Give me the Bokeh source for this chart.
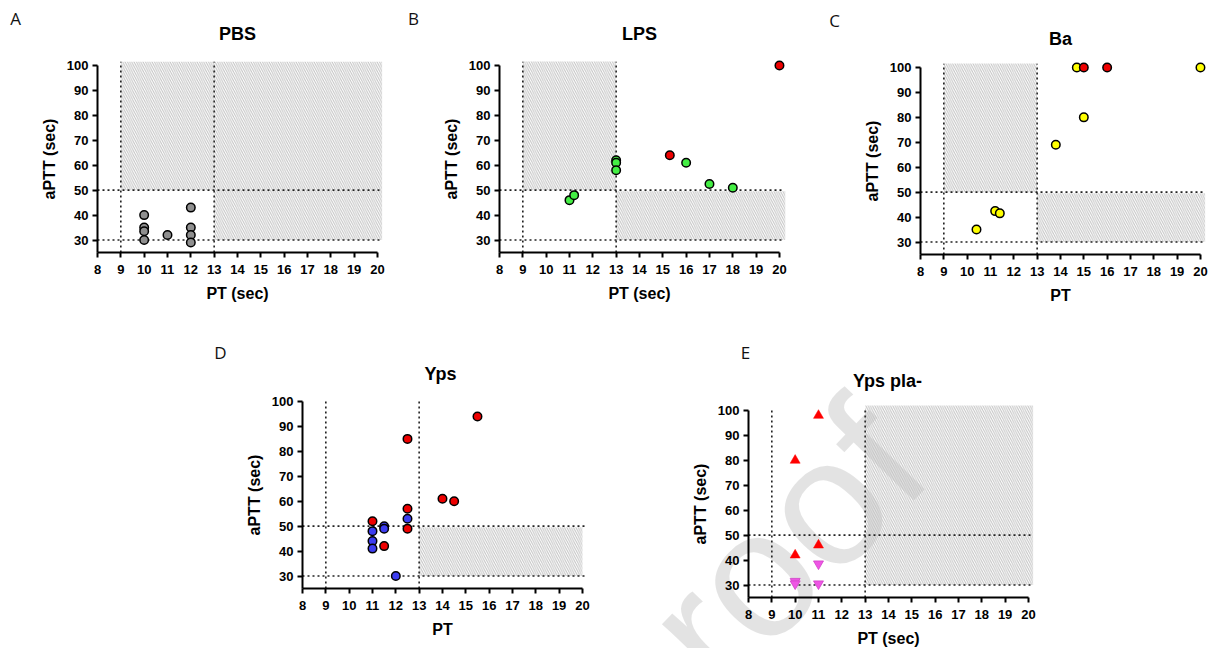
from bokeh.plotting import figure
from bokeh.models import Label, FixedTicker, Range1d
from bokeh.layouts import column, row
from bokeh.embed import file_html
from bokeh.resources import INLINE

# ---------------- data ----------------
x_ticks = [8, 9, 10, 11, 12, 13, 14, 15, 16, 17, 18, 19, 20]
y_ticks = [30, 40, 50, 60, 70, 80, 90, 100]
pt_cutoffs = [9, 13]
aptt_cutoffs = [30, 50]

pbs_pt = [10, 10, 10, 10, 11, 12, 12, 12, 12]
pbs_aptt = [40, 35, 33.5, 30, 32, 43, 35, 32, 29]

lps_green_pt = [11, 11.2, 13, 13, 13, 16, 17, 18]
lps_green_aptt = [46, 48, 62, 61, 58, 61, 52.5, 51]
lps_red_pt = [15.3, 20]
lps_red_aptt = [64, 100]

ba_yellow_pt = [10.4, 11.2, 11.4, 13.8, 14.7, 15, 20]
ba_yellow_aptt = [35, 42.4, 41.5, 69, 100, 80, 100]
ba_red_pt = [15, 16]
ba_red_aptt = [100, 100]

yps_blue_pt = [11, 11, 11, 11.5, 11.5, 12.5, 12]
yps_blue_aptt = [48, 44, 41, 50, 49, 53, 30]
yps_red_pt = [11, 11.5, 12.5, 12.5, 12.5, 14, 14.5, 15.5]
yps_red_aptt = [52, 42, 85, 57, 49, 61, 60, 94]

ypsp_up_pt = [11, 10, 10, 11]
ypsp_up_aptt = [98, 80, 42, 46]
ypsp_down_pt = [11, 11, 10, 10]
ypsp_down_aptt = [38.5, 30.5, 31.5, 30.5]

# hatched zones (PT from, PT to, aPTT from, aPTT to)
hatch_A = [(9, 13, 50, 101.5), (13, 20.2, 30, 101.5)]
hatch_B = [(9, 13, 50, 101.6), (13, 20.25, 30, 49.6)]
hatch_C = [(9, 13, 50, 101.6), (13, 20.2, 30, 49.6)]
hatch_D = [(13, 20, 30, 49.6)]
hatch_E = [(13, 20.2, 30, 102)]

FONT = "Liberation Sans"
LETTER_FONT = "Open Sans"
PPX = 23.33    # pixels per PT unit
PPY = 2.4935   # pixels per aPTT unit


def make_panel(title, xlabel, letter, width, height, axis_px, axis_py,
               hatches, letter_px, title_px, vtop=101.5):
    """axis_px: canvas x of PT=8; axis_py: canvas y of the x axis line (aPTT=25)."""
    x0 = 8 - axis_px / PPX
    x1 = x0 + width / PPX
    y1 = 25 + axis_py / PPY
    y0 = 25 - (height - axis_py) / PPY
    p = figure(width=width, height=height,
               min_border_left=0, min_border_right=0,
               min_border_top=0, min_border_bottom=0,
               x_range=Range1d(x0, x1), y_range=Range1d(y0, y1),
               output_backend="svg", toolbar_location=None, tools="")
    p.grid.visible = False
    p.outline_line_color = None
    p.background_fill_color = "white"
    p.border_fill_color = "white"

    p.xaxis.ticker = FixedTicker(ticks=x_ticks)
    p.yaxis.ticker = FixedTicker(ticks=y_ticks)
    p.xaxis.bounds = (8, 20)
    p.yaxis.bounds = (25, 100)
    p.yaxis.fixed_location = 8
    p.xaxis.fixed_location = 25
    for ax in (p.xaxis[0], p.yaxis[0]):
        ax.axis_line_width = 2
        ax.axis_line_color = "black"
        ax.major_tick_line_width = 2
        ax.major_tick_line_color = "black"
        ax.major_tick_out = 5
        ax.major_tick_in = 0
        ax.minor_tick_line_color = None
        ax.major_label_text_font = FONT
        ax.major_label_text_font_style = "bold"
        ax.major_label_text_font_size = "13px"
        ax.major_label_text_color = "black"
        ax.axis_label_text_font = FONT
        ax.axis_label_text_font_style = "bold"
        ax.axis_label_text_font_size = "16px"
        ax.axis_label_text_color = "black"
    p.xaxis.major_label_standoff = 7
    p.xaxis.axis_label_standoff = 8
    p.yaxis.major_label_standoff = 4
    p.yaxis.axis_label_standoff = 6
    p.xaxis.axis_label = xlabel
    p.yaxis.axis_label = "aPTT (sec)"

    if hatches:
        p.quad(left=[h[0] for h in hatches], right=[h[1] for h in hatches],
               bottom=[h[2] for h in hatches], top=[h[3] for h in hatches],
               fill_color="white", fill_alpha=0.0, line_color=None,
               hatch_pattern="left_diagonal_line", hatch_color="#c2c2c2",
               hatch_scale=4.5, hatch_weight=1)

    p.segment(x0=pt_cutoffs, x1=pt_cutoffs, y0=[25] * len(pt_cutoffs), y1=[vtop] * len(pt_cutoffs),
              line_color="#222222", line_width=1.6, line_dash="2 3")
    p.segment(x0=[8] * len(aptt_cutoffs), x1=[20.2] * len(aptt_cutoffs), y0=aptt_cutoffs, y1=aptt_cutoffs,
              line_color="#222222", line_width=1.6, line_dash="2 3")

    def to_data(px, py):
        return x0 + px / PPX, 25 + (axis_py - py) / PPY

    tx, ty = to_data(*title_px)
    p.add_layout(Label(x=tx, y=ty, text=title, text_font=FONT,
                       text_font_style="bold", text_font_size="18px", text_color="black",
                       text_align="center", text_baseline="middle"))
    lx, ly = to_data(*letter_px)
    p.add_layout(Label(x=lx, y=ly, text=letter, text_font=LETTER_FONT,
                       text_font_size="17px", text_color="#111111",
                       text_align="center", text_baseline="middle"))
    p._to_data = to_data
    return p


def dots(p, xs, ys, color):
    p.scatter(xs, ys, marker="circle", size=8.5, fill_color=color,
              line_color="black", line_width=1.5)


# row 1 : canvases at x 0-404, 404-820, 820-1216 ; height 320
pA = make_panel("PBS", "PT (sec)", "A", 404, 320, 97, 252, hatch_A, (15, 18), (237, 33))
dots(pA, pbs_pt, pbs_aptt, "#8f8f8f")

pB = make_panel("LPS", "PT (sec)", "B", 416, 320, 95, 252, hatch_B, (9, 18), (235, 33))
dots(pB, lps_green_pt, lps_green_aptt, "#44ee44")
dots(pB, lps_red_pt, lps_red_aptt, "#ee0000")

pC = make_panel("Ba", "PT", "C", 396, 320, 100, 254, hatch_C, (14, 20), (240, 38))
dots(pC, ba_yellow_pt, ba_yellow_aptt, "#ffff00")
dots(pC, ba_red_pt, ba_red_aptt, "#ee0000")

# row 2 : canvases at x 0-659, 659-1216 ; height 328
pD = make_panel("Yps", "PT", "D", 659, 328, 302, 268, hatch_D, (220, 32), (440, 53), vtop=101)
dots(pD, yps_red_pt, yps_red_aptt, "#ee0000")
dots(pD, yps_blue_pt, yps_blue_aptt, "#3d3df0")

pE = make_panel("Yps pla-", "PT (sec)", "E", 557, 328, 89, 277, hatch_E, (86, 32), (228, 60), vtop=101)
pE.scatter(ypsp_up_pt, ypsp_up_aptt, marker="triangle", size=10, fill_color="#ff0000",
           line_color="#ff0000", line_width=0.5)
pE.scatter(ypsp_down_pt, ypsp_down_aptt, marker="inverted_triangle", size=10, fill_color="#ee55e4",
           line_color="#d040c8", line_width=0.8)

# faint "Journal Pre-proof" watermark, drawn in both lower panels so it crosses the canvases
for pp, offset_x in ((pD, 0), (pE, 659)):
    wx, wy = pp._to_data(892 - offset_x, 432 - 320)
    pp.add_layout(Label(x=wx, y=wy, text="Journal Pre-proof", angle=46, angle_units="deg",
                        text_align="right", text_baseline="alphabetic", text_font=FONT,
                        text_font_size="180px", text_color="black", text_alpha=0.11,
                        level="underlay"))

layout = column(row(pA, pB, pC), row(pD, pE))

open("out.html", "w").write(file_html(layout, INLINE))
